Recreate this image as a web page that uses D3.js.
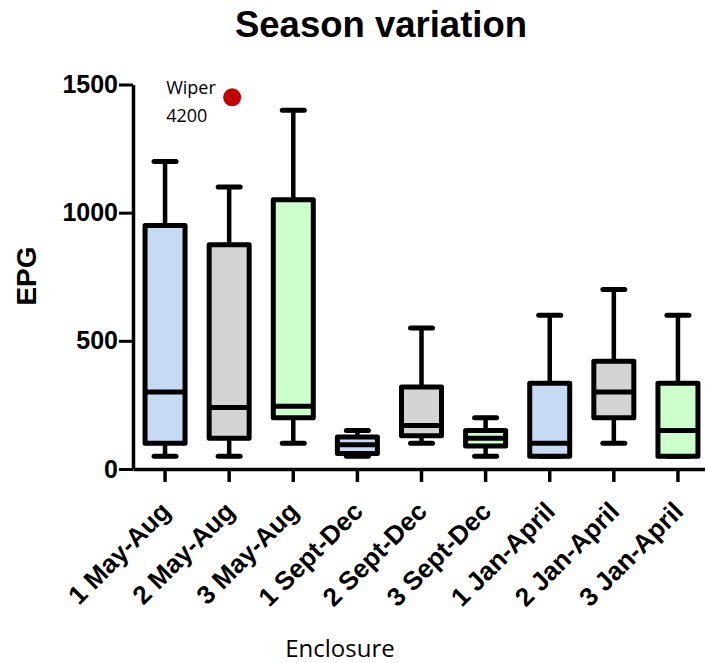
<!DOCTYPE html>
<html>
<head>
<meta charset="utf-8">
<script src="https://cdn.jsdelivr.net/npm/d3@7"></script>
<style>
  body { margin: 0; background: #fff; }
  #chart svg { display: block; }
</style>
</head>
<body>
<div id="chart"></div>
<script>
var categories = ["1 May-Aug", "2 May-Aug", "3 May-Aug", "1 Sept-Dec", "2 Sept-Dec", "3 Sept-Dec", "1 Jan-April", "2 Jan-April", "3 Jan-April"];
var mins    = [50, 50, 100, 50, 100, 50, 50, 100, 50];
var q1s     = [100, 120, 200, 60, 130, 90, 50, 200, 50];
var medians = [300, 240, 245, 95, 170, 120, 100, 300, 150];
var q3s     = [950, 875, 1050, 125, 320, 150, 335, 420, 335];
var maxs    = [1200, 1100, 1400, 150, 550, 200, 600, 700, 600];
var yTicks  = [0, 500, 1000, 1500];
// outlier shown clipped at top of axis, real value in label
var outlierCat = "2 May-Aug", outlierPlot = 1450, outlierName = "Wiper", outlierValue = "4200";

var width = 705, height = 663;
var fills = ["#c6daf3", "#d4d4d4", "#ccffcc"];

var svg = d3.select("#chart").append("svg")
    .attr("width", width)
    .attr("height", height);

var x = d3.scaleBand().domain(categories).range([133, 710]).padding(0);
var y = d3.scaleLinear().domain([0, 1500]).range([469, 84.5]);

var boxW = 40;

// title
svg.append("text")
    .attr("x", 381).attr("y", 37)
    .attr("text-anchor", "middle")
    .style("font-family", "Liberation Sans, Arial, sans-serif")
    .style("font-weight", "bold")
    .style("font-size", "36.5px")
    .text("Season variation");

// y axis
var yAxis = svg.append("g")
    .attr("transform", "translate(133,0)")
    .call(d3.axisLeft(y).tickValues(yTicks).tickFormat(d3.format("d"))
        .tickSize(14).tickSizeOuter(0).tickPadding(1));
yAxis.select(".domain").attr("stroke-width", 3.5);
yAxis.selectAll(".tick line").attr("stroke-width", 3);
yAxis.selectAll(".tick text")
    .style("font-family", "Liberation Sans, Arial, sans-serif")
    .style("font-weight", "bold")
    .style("font-size", "25px")
    .attr("fill", "#000");

svg.append("text")
    .attr("transform", "translate(36,276) rotate(-90)")
    .attr("text-anchor", "middle")
    .style("font-family", "Liberation Sans, Arial, sans-serif")
    .style("font-weight", "bold")
    .style("font-size", "28px")
    .text("EPG");

// x axis
var xAxis = svg.append("g")
    .attr("transform", "translate(0,469)")
    .call(d3.axisBottom(x).tickSize(13).tickSizeOuter(0));
xAxis.select(".domain").attr("stroke-width", 3.5);
xAxis.selectAll(".tick line").attr("stroke-width", 3.5);
xAxis.selectAll(".tick text")
    .style("font-family", "Liberation Sans, Arial, sans-serif")
    .style("font-weight", "bold")
    .style("font-size", "26px")
    .attr("fill", "#000")
    .attr("text-anchor", "end")
    .attr("dy", null)
    .attr("y", null)
    .attr("transform", "translate(7,44) rotate(-45)");

svg.append("text")
    .attr("x", 340).attr("y", 657)
    .attr("text-anchor", "middle")
    .style("font-family", "Open Sans, sans-serif")
    .style("font-size", "24px")
    .text("Enclosure");

// boxes
var rows = categories.map(function (c, i) {
    return { cat: c, min: mins[i], q1: q1s[i], med: medians[i], q3: q3s[i], max: maxs[i], fill: fills[i % 3] };
});

var g = svg.selectAll(".box").data(rows).enter().append("g").attr("class", "box")
    .attr("transform", function (d) { return "translate(" + (x(d.cat) + x.bandwidth() / 2) + ",0)"; });

g.append("line")
    .attr("x1", 0).attr("x2", 0)
    .attr("y1", function (d) { return y(d.max); })
    .attr("y2", function (d) { return y(d.min); })
    .attr("stroke", "#000").attr("stroke-width", 4.5);

g.selectAll(".cap").data(function (d) { return [d.min, d.max]; }).enter().append("line")
    .attr("x1", -11).attr("x2", 11)
    .attr("y1", function (v) { return y(v); })
    .attr("y2", function (v) { return y(v); })
    .attr("stroke", "#000").attr("stroke-width", 5)
    .attr("stroke-linecap", "round");

g.append("rect")
    .attr("x", -boxW / 2).attr("width", boxW)
    .attr("y", function (d) { return y(d.q3); })
    .attr("height", function (d) { return y(d.q1) - y(d.q3); })
    .attr("fill", function (d) { return d.fill; })
    .attr("stroke", "#000").attr("stroke-width", 5)
    .attr("stroke-linejoin", "round");

g.append("line")
    .attr("x1", -boxW / 2).attr("x2", boxW / 2)
    .attr("y1", function (d) { return y(d.med); })
    .attr("y2", function (d) { return y(d.med); })
    .attr("stroke", "#000").attr("stroke-width", 5);

// outlier
var ox = x(outlierCat) + x.bandwidth() / 2 + 3;
svg.append("circle")
    .attr("cx", ox).attr("cy", y(outlierPlot))
    .attr("r", 9)
    .attr("fill", "#c00000");

var lab = svg.append("text")
    .style("font-family", "Open Sans, sans-serif")
    .style("font-size", "18px");
lab.append("tspan").attr("x", ox - 66).attr("y", 94).text(outlierName);
lab.append("tspan").attr("x", ox - 66).attr("y", 122).text(outlierValue);
</script>
</body>
</html>
